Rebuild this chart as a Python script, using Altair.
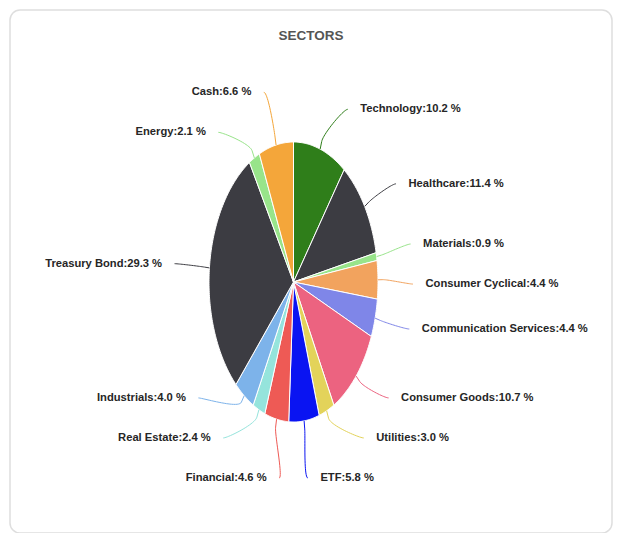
import numpy as np
import pandas as pd
import altair as alt

# ---- data ----
sectors = ["Technology", "Healthcare", "Materials", "Consumer Cyclical",
           "Communication Services", "Consumer Goods", "Utilities", "ETF",
           "Financial", "Real Estate", "Industrials", "Treasury Bond",
           "Energy", "Cash"]
shares = [10.2, 11.4, 0.9, 4.4, 4.4, 10.7, 3.0, 5.8, 4.6, 2.4, 4.0, 29.3, 2.1, 6.6]
colors = ["#2f7e1a", "#3c3c42", "#98e48a", "#f2a35e", "#7f86e8", "#ec6380",
          "#e3d35a", "#0a14f2", "#ee5a55", "#95e4dc", "#7db3ea", "#3c3c42",
          "#98e48a", "#f4a63a"]
title_text = "SECTORS"

# ---- pie layout (unit-radius space; the x/y scales stretch it) ----
LABEL_R = 1.30        # natural label radius
GAP = 0.286           # minimum vertical spacing between labels
D_LO, D_HI = -1.45, 1.40
XR, YR = 1.562, 1.43  # curve on which label texts start / end
PAD = 0.148           # connector end -> text
BREAK = 1.058         # connector break radius

vals = np.array(shares, dtype=float)
cum = np.concatenate([[0], np.cumsum(vals)]) / vals.sum() * 2 * np.pi
starts, ends = cum[:-1], cum[1:]
mids = (starts + ends) / 2

poly_rows = []
for k, s in enumerate(sectors):
    a0, a1 = starts[k], ends[k]
    n = max(3, int(np.ceil((a1 - a0) / np.radians(0.75))))
    angs = np.linspace(a0, a1, n + 1)
    pts = [(0.0, 0.0)] + [(np.sin(a), np.cos(a)) for a in angs] + [(0.0, 0.0)]
    for i, (x, y) in enumerate(pts):
        poly_rows.append({"sector": s, "i": i, "x": x, "y": y})
poly_df = pd.DataFrame(poly_rows)


def distribute(targets, gap, lo, hi):
    clusters = [[i] for i in range(len(targets))]

    def place(c):
        m = np.mean([targets[i] for i in c])
        st = m - gap * (len(c) - 1) / 2
        return min(max(st, lo), hi - gap * (len(c) - 1))

    changed = True
    while changed:
        changed = False
        sts = [place(c) for c in clusters]
        for k in range(len(clusters) - 1):
            end_k = sts[k] + gap * (len(clusters[k]) - 1)
            if sts[k + 1] - end_k < gap - 1e-9:
                clusters[k] = clusters[k] + clusters[k + 1]
                del clusters[k + 1]
                changed = True
                break
    pos = {}
    for c in clusters:
        st = place(c)
        for j, i in enumerate(c):
            pos[i] = st + j * gap
    return pos


label_rows, conn_rows = [], []
for side in ("right", "left"):
    idx = [k for k in range(len(sectors)) if (np.sin(mids[k]) >= 0) == (side == "right")]
    nat = {k: -np.cos(mids[k]) * LABEL_R for k in idx}
    order = sorted(idx, key=lambda k: nat[k])
    pos = distribute([nat[k] for k in order], GAP, D_LO, D_HI)
    sgn = 1 if side == "right" else -1
    for j, k in enumerate(order):
        d = pos[j]
        xt = XR * np.sqrt(max(0.0, 1 - (d / YR) ** 2))
        xc = max(xt - PAD, 0.02)
        lx, ly = sgn * xc, -d
        label_rows.append({"sector": sectors[k], "side": side,
                           "label": f"{sectors[k]}:{shares[k]:.1f} %",
                           "x": sgn * xt, "y": ly})
        a = mids[k]
        touch = np.array([np.sin(a), np.cos(a)])
        brk = touch * BREAK
        p0 = np.array([lx, ly])
        p1 = np.array([lx - sgn * 0.05, ly])
        p2 = 2 * brk - touch
        p3 = brk
        ts = np.linspace(0, 1, 24)
        pts = [((1 - t) ** 3) * p0 + 3 * ((1 - t) ** 2) * t * p1 + 3 * (1 - t) * t * t * p2 + t ** 3 * p3 for t in ts]
        pts.append(touch)
        for i, p in enumerate(pts):
            conn_rows.append({"sector": sectors[k], "i": i, "x": p[0], "y": p[1]})

label_df = pd.DataFrame(label_rows)
conn_df = pd.DataFrame(conn_rows)

FONT = "Liberation Sans, Arial, sans-serif"
xs = alt.Scale(domain=[-1, 1], nice=False, zero=False)
ys = alt.Scale(domain=[-1, 1], nice=False, zero=False)
cs = alt.Scale(domain=sectors, range=colors)

X = alt.X("x:Q", scale=xs, axis=None)
Y = alt.Y("y:Q", scale=ys, axis=None)

card = alt.Chart(alt.Data(values=[{"a": 1}])).mark_rect(
    fill="white", stroke="#dedede", strokeWidth=1.5, cornerRadius=10
).encode(x=alt.value(-199), x2=alt.value(403), y=alt.value(-132), y2=alt.value(391))

title = alt.Chart(alt.Data(values=[{"t": title_text}])).mark_text(
    font=FONT, fontSize=13.5, fontWeight="bold", color="#555555",
    align="center", baseline="alphabetic"
).encode(text="t:N", x=alt.value(102), y=alt.value(-102))

slices = alt.Chart(poly_df).mark_line(stroke="white", strokeWidth=1, strokeJoin="round").encode(
    x=X, y=Y,
    fill=alt.Fill("sector:N", scale=cs, legend=None),
    order=alt.Order("i:Q"),
)

connectors = alt.Chart(conn_df).mark_line(strokeWidth=1).encode(
    x=X, y=Y,
    color=alt.Color("sector:N", scale=cs, legend=None),
    detail="sector:N",
    order=alt.Order("i:Q"),
)

text_common = dict(font=FONT, fontSize=11.2, fontWeight="bold", color="#262626", baseline="middle")
labels_r = alt.Chart(label_df).transform_filter(alt.datum.side == "right").mark_text(
    align="left", **text_common).encode(x=X, y=Y, text="label:N")
labels_l = alt.Chart(label_df).transform_filter(alt.datum.side == "left").mark_text(
    align="right", **text_common).encode(x=X, y=Y, text="label:N")

chart = alt.layer(card, title, slices, connectors, labels_r, labels_l).properties(
    width=169, height=280,
    padding={"left": 201, "top": 134, "right": 235, "bottom": 111},
    autosize=alt.AutoSizeParams(type="none"),
).configure_view(stroke=None)

chart.save("out.html", embed_options={"renderer": "svg", "actions": False})
